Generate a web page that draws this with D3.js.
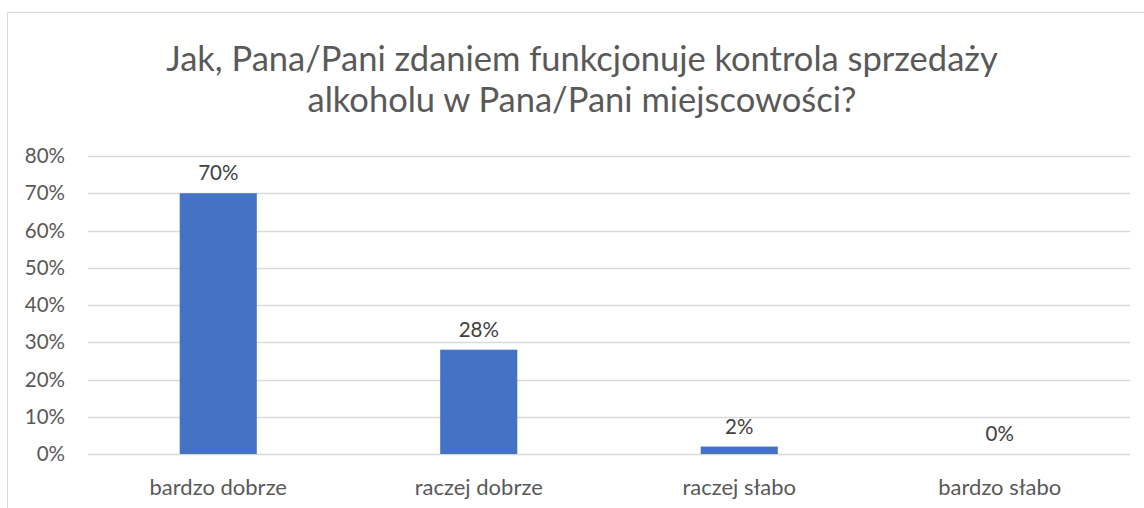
<!DOCTYPE html>
<html>
<head>
<meta charset="utf-8">
<script src="https://cdn.jsdelivr.net/npm/d3@7"></script>
<style>
  html, body { margin: 0; padding: 0; background: #fff; }
  svg { display: block; font-family: Lato, "Open Sans", sans-serif; }
</style>
</head>
<body>
<svg id="chart" width="1144" height="508"></svg>
<script>
// Survey answers and their shares
const categories = ["bardzo dobrze", "raczej dobrze", "raczej słabo", "bardzo słabo"];
const shares = [0.70, 0.28, 0.02, 0.00];
const tickValues = [0, 0.1, 0.2, 0.3, 0.4, 0.5, 0.6, 0.7, 0.8];
const titleLines = [
  "Jak, Pana/Pani zdaniem funkcjonuje kontrola sprzedaży",
  "alkoholu w Pana/Pani miejscowości?"
];

const svg = d3.select("#chart");
const W = 1144, H = 508;
const margin = { left: 88, right: 14, top: 156, bottom: 54 };
const textColor = "#595959";
const labelSize = "20.5px";

// outer frame of the chart area
svg.append("rect")
  .attr("x", 7.5).attr("y", 12.5)
  .attr("width", 1160).attr("height", 520)
  .attr("fill", "none").attr("stroke", "#d9d9d9").attr("stroke-width", 1);

const x = d3.scaleBand()
  .domain(categories)
  .range([margin.left, W - margin.right])
  .paddingInner(0.704)
  .paddingOuter(0.352);

const y = d3.scaleLinear()
  .domain([0, 0.8])
  .range([H - margin.bottom, margin.top]);

// horizontal gridlines
svg.append("g")
  .selectAll("line")
  .data(tickValues)
  .join("line")
  .attr("x1", margin.left).attr("x2", W - margin.right)
  .attr("y1", d => Math.round(y(d)) + 0.5).attr("y2", d => Math.round(y(d)) + 0.5)
  .attr("stroke", "#d9d9d9").attr("stroke-width", 1.3);

// y axis labels
const yAxis = d3.axisLeft(y)
  .tickValues(tickValues)
  .tickFormat(d3.format(".0%"))
  .tickSize(0)
  .tickPadding(23);
const gy = svg.append("g").attr("transform", `translate(${margin.left},0)`).call(yAxis);
gy.select(".domain").remove();
gy.selectAll("text")
  .attr("fill", textColor)
  .style("font-size", labelSize)
  .style("font-family", "Lato, 'Open Sans', sans-serif");

// x axis labels
const xAxis = d3.axisBottom(x).tickSize(0).tickPadding(25);
const gx = svg.append("g").attr("transform", `translate(0,${H - margin.bottom})`).call(xAxis);
gx.select(".domain").remove();
gx.selectAll("text")
  .attr("fill", textColor)
  .style("font-size", "22px")
  .style("font-family", "Lato, 'Open Sans', sans-serif");

// bars
svg.append("g")
  .selectAll("rect")
  .data(shares)
  .join("rect")
  .attr("x", (d, i) => x(categories[i]))
  .attr("y", d => y(d))
  .attr("width", x.bandwidth())
  .attr("height", d => y(0) - y(d))
  .attr("fill", "#4472c4");

// value labels
svg.append("g")
  .selectAll("text")
  .data(shares)
  .join("text")
  .attr("x", (d, i) => x(categories[i]) + x.bandwidth() / 2)
  .attr("y", d => y(d) - 13)
  .attr("text-anchor", "middle")
  .attr("fill", "#404040")
  .style("font-size", labelSize)
  .text(d => d3.format(".0%")(d));

// title
svg.append("g")
  .selectAll("text")
  .data(titleLines)
  .join("text")
  .attr("x", 582)
  .attr("y", (d, i) => 71 + i * 41)
  .attr("text-anchor", "middle")
  .attr("fill", textColor)
  .style("font-size", "34.5px")
  .text(d => d);
</script>
</body>
</html>
